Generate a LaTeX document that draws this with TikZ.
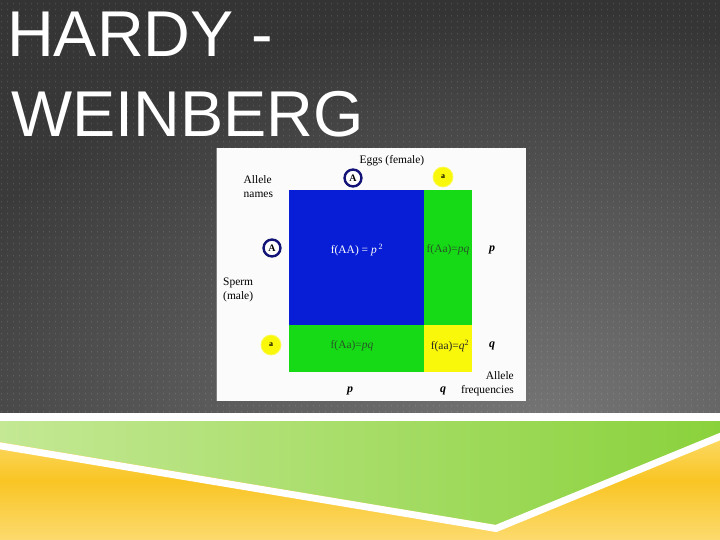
\documentclass[tikz,border=0pt]{standalone}
\usepackage{fontspec}
\setmainfont{Liberation Serif}
\newfontfamily\titlefont{Liberation Sans}
\usetikzlibrary{patterns,fadings}
\pgfdeclarepatternformonly{bgdots}{\pgfqpoint{0bp}{0bp}}{\pgfqpoint{6bp}{6bp}}{\pgfqpoint{6bp}{6bp}}{\pgfpathrectangle{\pgfqpoint{2.5bp}{2bp}}{\pgfqpoint{0.8bp}{1.6bp}}\pgfusepath{fill}}
\tikzfading[name=glow, inner color=transparent!0, outer color=transparent!100]
\definecolor{bgdark}{RGB}{52,52,52}
\definecolor{bglight}{RGB}{118,118,118}
\definecolor{cellblue}{RGB}{8,30,214}
\definecolor{cellgreen}{RGB}{22,218,22}
\definecolor{cellyellow}{RGB}{250,248,10}
\definecolor{navy}{RGB}{20,20,120}
\definecolor{greentxt}{RGB}{40,85,40}
\definecolor{yelA}{RGB}{253,225,125}
\definecolor{yelB}{RGB}{249,197,36}
\definecolor{yelC}{RGB}{252,218,110}
\definecolor{grnL}{RGB}{196,232,148}
\definecolor{grnR}{RGB}{138,210,60}
\tikzset{
  lbl/.style={inner sep=0, font=\fontsize{11.5}{14}\selectfont, text=black},
  celltxt/.style={inner sep=0, font=\fontsize{11.5}{14}\selectfont},
  ringA/.style={circle, draw=navy, line width=2.4, fill=white, minimum size=17, inner sep=0, font=\bfseries\fontsize{10}{10}\selectfont},
  ringa/.style={circle, fill=cellyellow, draw=cellyellow!70!white, line width=0.8, minimum size=20, inner sep=0, font=\bfseries\fontsize{8}{8}\selectfont},
  freq/.style={inner sep=0, font=\bfseries\itshape\fontsize{12}{12}\selectfont},
  titletxt/.style={inner sep=0, anchor=base west, text=white, font=\titlefont\fontsize{65}{80}\selectfont}
}
\begin{document}
\begin{tikzpicture}[x=1bp,y=-1bp]
\useasboundingbox (0,0) rectangle (720,540);
% background
\shade[top color=bgdark, bottom color=bgdark!80!bglight] (0,0) rectangle (720,413);
\begin{scope}
\clip (0,0) rectangle (720,413);
\fill[bglight, path fading=glow] (540,430) ellipse (640 and 420);
\end{scope}
\fill[pattern=bgdots, pattern color=white, fill opacity=0.12] (0,0) rectangle (720,413);
% bottom band
\fill[white] (0,413) rectangle (720,421);
\shade[top color=yelA, bottom color=yelC, middle color=yelB] (0,421) rectangle (720,540);
\shade[left color=grnL, right color=grnR] (0,421) -- (720,421) -- (720,433) -- (496,525) -- (0,442) -- cycle;
\draw[white, line width=7, line join=miter] (-5,445) -- (496,528.5) -- (725,434.5);
% title
\node[titletxt] (t1) at (7,57) {HARDY -};
\node[titletxt] (t2) at (11,137) {WEINBERG};
% figure panel
\fill[white!97!gray] (216,148) rectangle (526,401);
\draw[gray, line width=1.2] (216.6,148) -- (216.6,401);
\fill[cellblue] (289,190) rectangle (424,325);
\fill[cellgreen] (424,190) rectangle (472,325);
\fill[cellgreen] (289,325) rectangle (424,372);
\fill[cellyellow] (424,325) rectangle (472,372);
% labels
\node[lbl] (eggs) at (392,161) {Eggs (female)};
\node[lbl, align=left, anchor=west] (names) at (243.5,187) {Allele\\names};
\node[lbl, align=left, anchor=west] (sperm) at (223,289.5) {Sperm\\(male)};
\node[lbl, align=right, anchor=east] (afreq) at (514,384) {Allele\\frequencies};
\node[ringA] (eA) at (353,178) {A};
\node[ringa] (ea) at (443,177) {a};
\node[ringA] (sA) at (272,248) {A};
\node[ringa] (sa) at (271,345) {a};
% cell texts
\node[celltxt, text=white] (AA) at (357,250) {f(AA) = \textit{p}\,\textsuperscript{2}};
\node[celltxt, text=greentxt] (Aa1) at (448,250) {f(Aa)=\textit{pq}};
\node[celltxt, text=greentxt] (Aa2) at (352,346) {f(Aa)=\textit{pq}};
\node[celltxt, text=black!85] (aa) at (450,346) {f(aa)=\textit{q}\textsuperscript{2}};
\node[freq] (pR) at (492,250) {p};
\node[freq] (qR) at (492,346) {q};
\node[freq] (pB) at (350,391) {p};
\node[freq] (qB) at (443,391) {q};
\end{tikzpicture}
\end{document}
